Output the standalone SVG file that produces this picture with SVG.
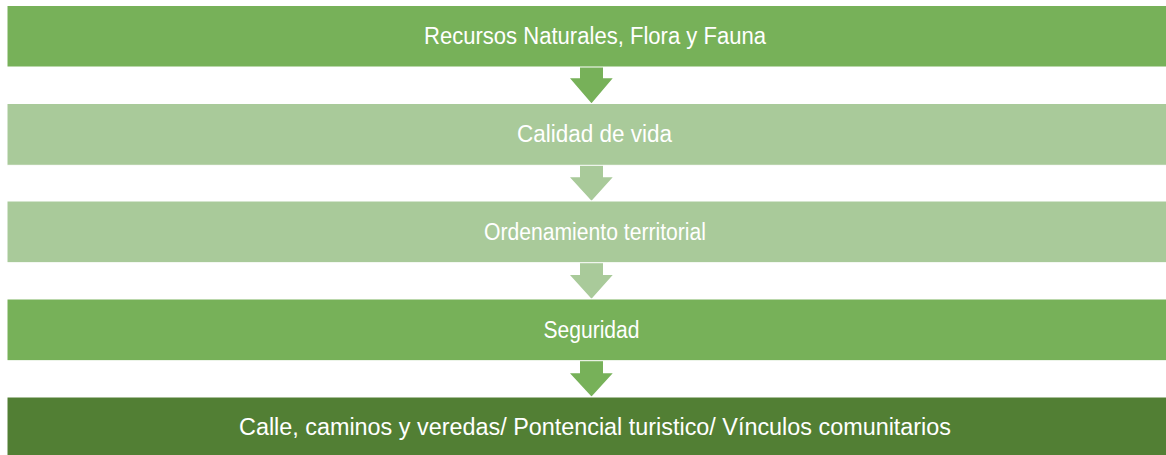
<svg xmlns="http://www.w3.org/2000/svg" width="1166" height="455" viewBox="0 0 1166 455">
<style>
.box{stroke:#ffffff;stroke-width:1}
.g1{fill:#77b159}
.g2{fill:#a9ca9a}
.g3{fill:#527f34}
.lbl{font-family:"Liberation Sans Narrow","Liberation Sans",Arial,sans-serif;font-size:23.5px;fill:#ffffff;text-anchor:middle}
</style>
<rect width="1166" height="455" fill="#ffffff"/>
<g id="connectors">
<polygon class="g1" points="580,66 603,66 603,78.3 612.7,78.3 591.5,103.3 570,78.3 580,78.3"/>
<polygon class="g2" points="580,165 603,165 603,177.3 612.7,177.3 591.5,200.7 570,177.3 580,177.3"/>
<polygon class="g2" points="580,262.5 603,262.5 603,275 612.7,275 591.5,298.8 570,275 580,275"/>
<polygon class="g1" points="580,360.5 603,360.5 603,373.3 612.7,373.3 591.5,396.5 570,373.3 580,373.3"/>
</g>
<g id="n1"><rect class="box g1" x="7" y="5.5" width="1176" height="61.5"/><text class="lbl" x="595" y="44" textLength="342" lengthAdjust="spacingAndGlyphs">Recursos Naturales, Flora y Fauna</text></g>
<g id="n2"><rect class="box g2" x="7" y="103.5" width="1176" height="61.8"/><text class="lbl" x="594.5" y="142.2" textLength="155" lengthAdjust="spacingAndGlyphs">Calidad de vida</text></g>
<g id="n3"><rect class="box g2" x="7" y="201" width="1176" height="61.7"/><text class="lbl" x="595" y="239.7" textLength="222" lengthAdjust="spacingAndGlyphs">Ordenamiento territorial</text></g>
<g id="n4"><rect class="box g1" x="7" y="299" width="1176" height="61.7"/><text class="lbl" x="591.5" y="337.7" textLength="96" lengthAdjust="spacingAndGlyphs">Seguridad</text></g>
<g id="n5"><rect class="box g3" x="7" y="397" width="1176" height="64"/><text class="lbl" x="595" y="435" textLength="712" lengthAdjust="spacingAndGlyphs">Calle, caminos y veredas/ Pontencial turistico/ Vínculos comunitarios</text></g>
</svg>
